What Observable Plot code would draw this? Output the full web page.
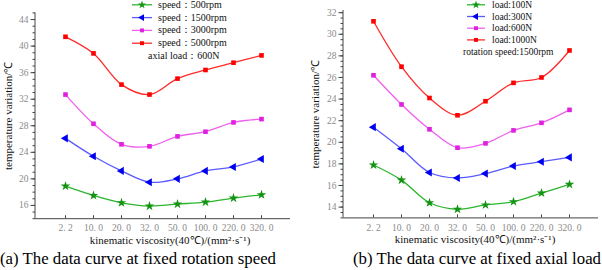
<!DOCTYPE html>
<html><head><meta charset="utf-8">
<script src="https://cdn.jsdelivr.net/npm/d3@7"></script>
<script src="https://cdn.jsdelivr.net/npm/@observablehq/plot@0.6"></script>
<style>
body{margin:0;background:#fff;}
#wrap{position:relative;width:602px;height:270px;overflow:hidden;background:#fff;font-family:'Liberation Serif',serif;}
.panel{position:absolute;top:0;}
.leg{position:absolute;font-size:10px;color:#111;white-space:nowrap;line-height:12px;}
.leg svg{position:absolute;overflow:visible;}
.cap{position:absolute;top:249px;font-size:16.8px;line-height:19px;color:#000;white-space:nowrap;}
</style></head>
<body><div id="wrap"></div>
<script>
// ---- data ----
const categories = ["2.2","10.0","20.0","32.0","50.0","100.0","220.0","320.0"];
const yLabel = "temperature variation/℃";
const xLabel = "kinematic viscosity(40℃)/(mm²·s⁻¹)";

// (a) fixed rotation speed, axial load 600N
const speed500  = [18.9,17.5,16.4,15.9,16.2,16.5,17.1,17.6];
const speed1500 = [26.1,23.4,21.2,19.5,20.0,21.2,21.8,23.0];
const speed3000 = [32.7,28.3,25.2,24.9,26.4,27.1,28.5,29.0];
const speed5000 = [41.4,38.9,34.2,32.7,35.1,36.4,37.5,38.6];
const leftNames = ["speed：500rpm","speed：1500rpm","speed：3000rpm","speed：5000rpm"];
const leftNote = "axial load：600N";
const leftTicks = [16,20,24,28,32,36,40,44];

// (b) fixed axial load, rotation speed 1500rpm
const load100  = [17.9,16.5,14.4,13.8,14.2,14.5,15.3,16.1];
const load300  = [21.4,19.4,17.2,16.7,17.1,17.8,18.2,18.6];
const load600  = [26.2,23.5,21.2,19.5,19.9,21.1,21.8,23.0];
const load1000 = [31.2,27.0,24.1,22.5,23.8,25.5,26.0,28.5];
const rightNames = ["load:100N","load:300N","load:600N","load:1000N"];
const rightNote = "rotation speed:1500rpm";
const rightTicks = [14,16,18,20,22,24,26,28,30,32];

const captions = ["(a) The data curve at fixed rotation speed","(b) The data curve at fixed axial load"];

// ---- styles ----
const styles = [
  {line:"#2db52d", mark:"#129412", symbol:"star", rotate:0, r:3.0},
  {line:"#5a5aff", mark:"#0000f0", symbol:"triangle", rotate:-90, r:3.0},
  {line:"#f060f0", mark:"#e020e0", symbol:"square", rotate:0, r:2.6},
  {line:"#ff2a2a", mark:"#ff0000", symbol:"square", rotate:0, r:2.6}
];

const wrap = document.getElementById("wrap");

function panel({left, width, marginLeft, marginRight, marginTop, marginBottom, yDomain, major, minorStep, seriesValues, yLabelDx, xLabelDx}){
  const minor = d3.range(yDomain[0], yDomain[1] + 1e-9, minorStep).map(v => +v.toFixed(2));
  const marks = [
    Plot.axisY({ticks: minor, tickSize: 2.5, tickFormat: () => "", label: null, color: "#444"}),
    Plot.axisY({ticks: major, tickSize: 4.5, tickFormat: () => "", label: null, color: "#444"}),
    Plot.axisY({ticks: major, tickSize: 0, tickPadding: 7, label: null, color: "#8a8a8a", fontSize: 9.5}),
    Plot.axisX({tickSize: -3, tickFormat: () => "", label: null, color: "#444"}),
    Plot.axisX({tickSize: 0, tickPadding: 6, label: null, color: "#8a8a8a", fontSize: 9.5,
                tickFormat: d => d.replace(".", ". ")}),
    Plot.ruleY([yDomain[0]], {stroke: "#444"}),
    (index, scales, values, dims) => d3.create("svg:line")
        .attr("x1", dims.marginLeft).attr("x2", dims.marginLeft)
        .attr("y1", dims.marginTop).attr("y2", dims.height - dims.marginBottom)
        .attr("stroke", "#444").node(),
    Plot.text([yLabel], {frameAnchor: "left", rotate: -90, dx: yLabelDx, fontSize: 11, fill: "#111", textAnchor: "middle"}),
    Plot.text([xLabel], {frameAnchor: "bottom", dy: 25.5, dx: xLabelDx, fontSize: 11, fill: "#111"})
  ];
  seriesValues.forEach((vals, k) => {
    const st = styles[k];
    const data = categories.map((c, i) => ({x: c, y: vals[i]}));
    marks.push(Plot.line(data, {x: "x", y: "y", stroke: st.line, strokeWidth: 1.3, curve: "catmull-rom"}));
    marks.push(Plot.dot(data, {x: "x", y: "y", symbol: st.symbol, r: st.r, fill: st.mark, stroke: "none", rotate: st.rotate}));
  });
  const svg = Plot.plot({
    width, height: 250, marginLeft, marginRight, marginTop, marginBottom,
    style: {fontFamily: "'Liberation Serif', serif", background: "transparent", overflow: "visible"},
    x: {type: "point", domain: categories, padding: 1},
    y: {domain: yDomain},
    marks
  });
  const d = document.createElement("div");
  d.className = "panel";
  d.style.left = left + "px";
  d.appendChild(svg);
  wrap.appendChild(d);
}

panel({left: 0, width: 300, marginLeft: 35, marginRight: 10, marginTop: 12.4, marginBottom: 31.8,
  yDomain: [14, 45], major: leftTicks, minorStep: 1,
  seriesValues: [speed500, speed1500, speed3000, speed5000], yLabelDx: -27, xLabelDx: 7});

panel({left: 300, width: 302, marginLeft: 43, marginRight: 4, marginTop: 10, marginBottom: 32.6,
  yDomain: [13, 32.2], major: rightTicks, minorStep: 0.5,
  seriesValues: [load100, load300, load600, load1000], yLabelDx: -28, xLabelDx: 4});

// ---- legends ----
function legend({lineX1, lineX2, textX, y0, dy, names, note, noteX, noteY, fontSize}){
  names.forEach((name, k) => {
    const st = styles[k];
    const y = y0 + dy * k;
    const s = document.createElementNS("http://www.w3.org/2000/svg", "svg");
    s.setAttribute("width", 1); s.setAttribute("height", 1);
    s.style.left = "0px"; s.style.top = "0px";
    const g = d3.select(s);
    g.append("line").attr("x1", lineX1).attr("x2", lineX2).attr("y1", y).attr("y2", y)
      .attr("stroke", st.line).attr("stroke-width", 1.3);
    const symType = st.symbol === "star" ? d3.symbolStar : st.symbol === "triangle" ? d3.symbolTriangle : d3.symbolSquare;
    const rr = st.r * 0.85;
    g.append("path").attr("d", d3.symbol(symType, Math.PI * rr * rr)())
      .attr("transform", `translate(${(lineX1 + lineX2) / 2},${y}) rotate(${st.rotate})`)
      .attr("fill", st.mark);
    const holder = document.createElement("div");
    holder.className = "leg"; holder.style.left = "0px"; holder.style.top = "0px";
    holder.appendChild(s);
    wrap.appendChild(holder);
    const t = document.createElement("div");
    t.className = "leg"; t.textContent = name;
    t.style.fontSize = fontSize + "px";
    t.style.left = textX + "px"; t.style.top = (y - 6) + "px";
    wrap.appendChild(t);
  });
  const n = document.createElement("div");
  n.className = "leg"; n.textContent = note;
  n.style.fontSize = fontSize + "px";
  n.style.left = noteX + "px"; n.style.top = (noteY - 6) + "px";
  wrap.appendChild(n);
}
legend({lineX1: 132, lineX2: 152, textX: 158, y0: 4.8, dy: 12.8, names: leftNames, note: leftNote, noteX: 148, noteY: 55.5, fontSize: 10});
legend({lineX1: 467, lineX2: 485, textX: 492, y0: 4.8, dy: 11.7, names: rightNames, note: rightNote, noteX: 463, noteY: 51.7, fontSize: 9.5});

// ---- captions ----
const capA = document.createElement("div");
capA.className = "cap"; capA.textContent = captions[0]; capA.style.left = "0px";
wrap.appendChild(capA);
const capB = document.createElement("div");
capB.className = "cap"; capB.textContent = captions[1]; capB.style.right = "1px";
wrap.appendChild(capB);
</script></body></html>
